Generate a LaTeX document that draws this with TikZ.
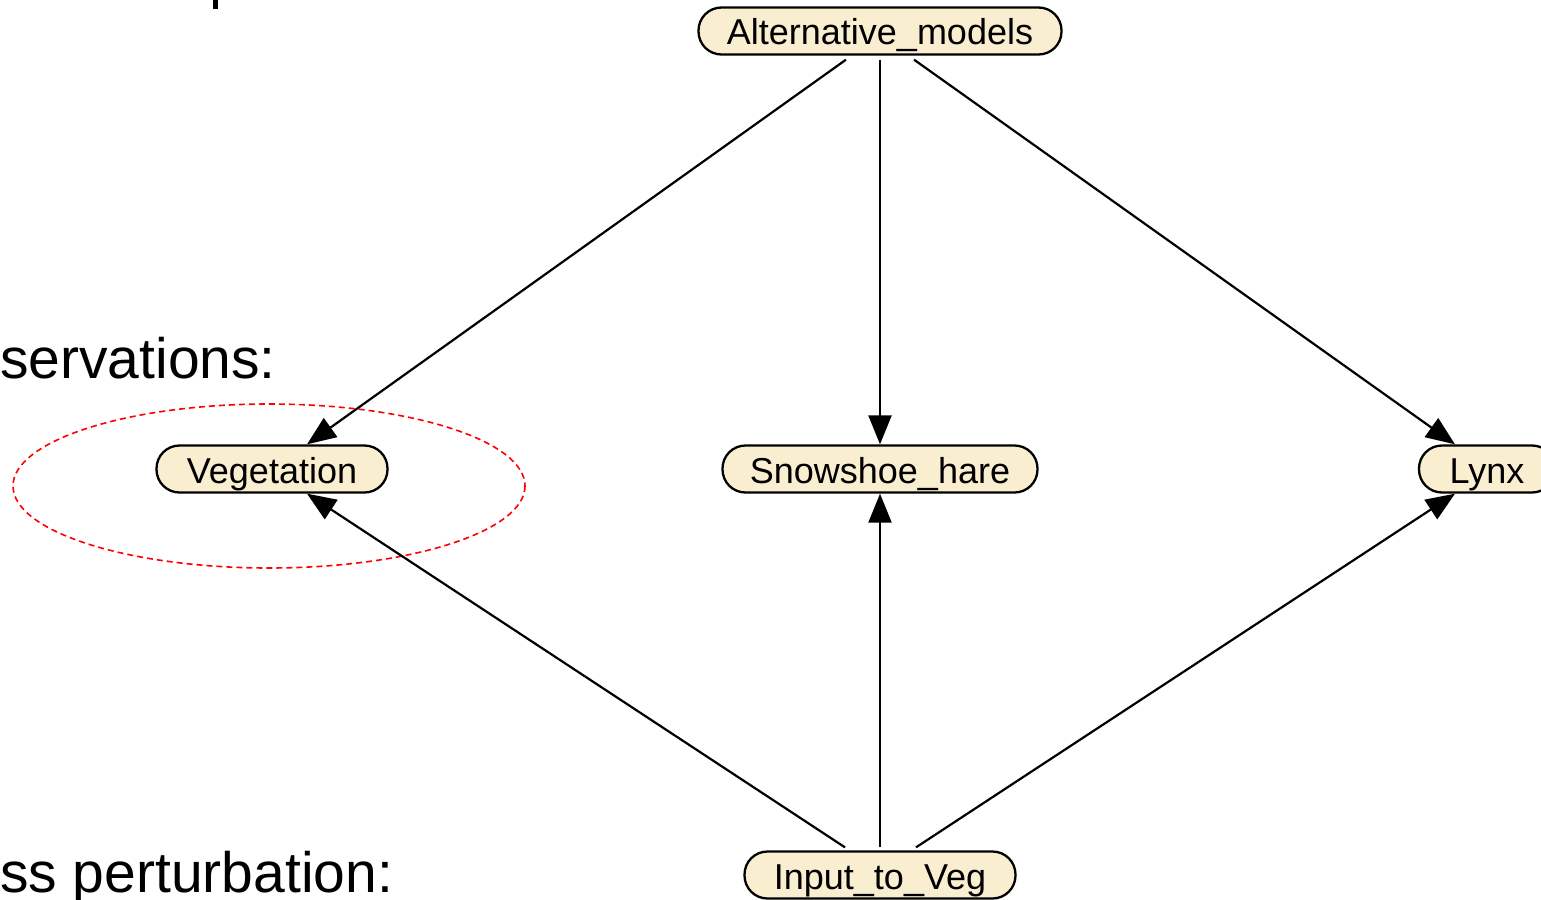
\documentclass[tikz,border=0pt]{standalone}
\usepackage{fontspec}
\setmainfont{Liberation Sans}
\usetikzlibrary{arrows.meta}
\definecolor{nodefill}{RGB}{250,238,208}
\tikzset{
  varnode/.style={draw=black, line width=2.3pt, fill=nodefill, rounded corners=23pt,
    minimum height=47pt, inner xsep=10pt, text height=28pt, text depth=0pt,
    font=\fontsize{36}{42}\selectfont},
  link/.style={draw=black, line width=2.2pt, -{Triangle[length=29pt,width=23pt]}},
  bigtext/.style={font=\fontsize{57}{68}\selectfont, inner sep=0pt},
  obsring/.style={draw=red, line width=1.6pt, dash pattern=on 6pt off 4pt}
}
\begin{document}
\begin{tikzpicture}[x=1pt,y=-1pt]
  \useasboundingbox (0,0) rectangle (1541,899);
  % side labels
  \node[bigtext, anchor=base west] (obs) at (0,378) {servations:};
  \node[bigtext, anchor=base west] (pert) at (0,892) {ss perturbation:};
  \fill[black] (213,0) rectangle (217.5,9);
  % grouping ring around the observed variable
  \draw[obsring] (269,486) ellipse [x radius=256, y radius=82];
  % variables
  \node[varnode, minimum width=363pt] (alt) at (880,31) {Alternative\_models};
  \node[varnode, minimum width=231pt] (veg) at (272,469) {Vegetation};
  \node[varnode, minimum width=315pt] (hare) at (880,469) {Snowshoe\_hare};
  \node[varnode, minimum width=136pt] (lynx) at (1487,469) {Lynx};
  \node[varnode, minimum width=271pt] (input) at (880,875) {Input\_to\_Veg};
  % anchor points for the edges
  \coordinate (a1) at ([xshift=-34pt,yshift=-4pt]alt.south);
  \coordinate (a2) at ([yshift=-4pt]alt.south);
  \coordinate (a3) at ([xshift=34pt,yshift=-4pt]alt.south);
  \coordinate (i1) at ([xshift=-35pt,yshift=3pt]input.north);
  \coordinate (i2) at ([yshift=3pt]input.north);
  \coordinate (i3) at ([xshift=36pt,yshift=3pt]input.north);
  \coordinate (vt) at ([xshift=35pt]veg.north);
  \coordinate (vb) at ([xshift=35pt]veg.south);
  \coordinate (lt) at ([xshift=-32pt]lynx.north);
  \coordinate (lb) at ([xshift=-32pt]lynx.south);
  % edges
  \draw[link] (a1) -- (vt);
  \draw[link] (a2) -- (hare.north);
  \draw[link] (a3) -- (lt);
  \draw[link] (i1) -- (vb);
  \draw[link] (i2) -- (hare.south);
  \draw[link] (i3) -- (lb);
\end{tikzpicture}
\end{document}
